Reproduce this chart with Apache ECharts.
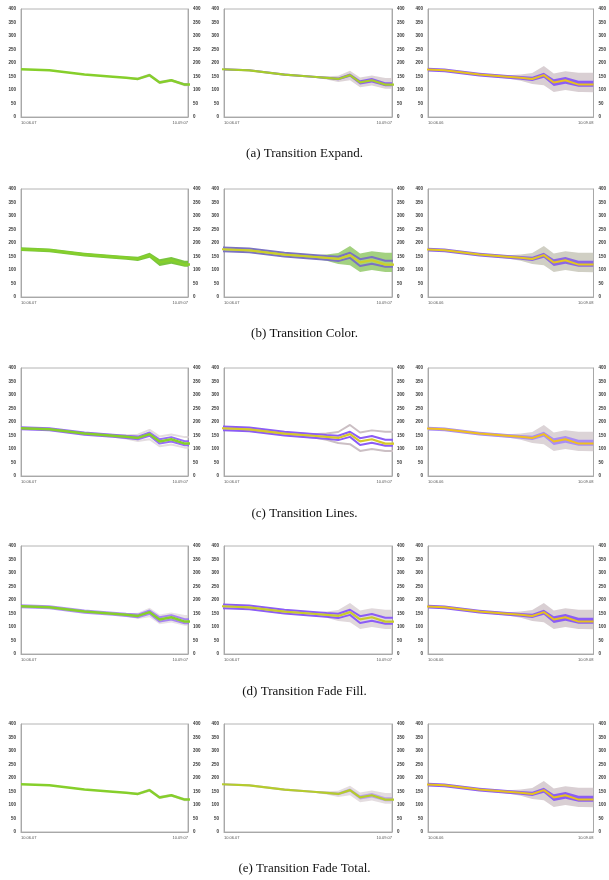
<!DOCTYPE html>
<html><head><meta charset="utf-8">
<script src="https://cdn.jsdelivr.net/npm/echarts@6/dist/echarts.min.js"></script>
<style>html,body{margin:0;padding:0;background:#fff}#c{width:609px;height:880px}</style>
</head><body><div id="c"></div>
<script>
// ---- data (day index from start, values) ----
const days        = [0, 17, 38, 55, 63, 70, 77, 83, 90, 98, 100, 107];
const meanValues  = [177,173,157,149,145,141,155,128,136,120,120,120];
// full uncertainty bands
const purpleUpper = [184,180,164,156,152,149,164,140,148,134,134,134];
const purpleLower = [170,166,150,142,138,133,145,115,123,112,112,112];
const grayUpper   = [181,177,161,155,157,163,189,161,169,164,164,164];
const grayLower   = [173,169,153,143,134,122,118, 93,100, 93, 93, 92];
// partially expanded bands
const purpleUpperMid = [181,177,161,153,149,146,161,136,144,129,129,129];
const purpleLowerMid = [173,169,153,145,141,136,149,120,128,114,114,114];
const grayUpperMid   = [179,175,159,152,151,153,171,146,154,144,144,144];
const grayLowerMid   = [175,171,155,146,139,130,136,110,117,105,105,105];
// barely expanded bands
const purpleUpperSmall = [178,174,158,150,146,143,158,131,139,124,124,124];
const purpleLowerSmall = [176,172,156,148,144,139,152,125,133,117,117,117];
const grayUpperSmall   = [178,174,158,150,147,146,161,134,141,126,126,126];
const grayLowerSmall   = [176,172,156,148,143,136,149,122,131,114,114,114];

const yTicks = [0,50,100,150,200,250,300,350,400];
const columnRanges = [[0,100],[2,102],[7,107]];
const dateLabels = [['10.06.07','10.09.07'],['10.06.07','10.09.07'],['10.06.06','10.09.08']];
const captions = ['(a) Transition Expand.','(b) Transition Color.','(c) Transition Lines.','(d) Transition Fade Fill.','(e) Transition Fade Total.'];

// ---- layout ----
const rowTops = [9,189,368,546,724];
const plotH = 108;
const colLefts = [21,224,428];
const colWidths = [167,168,167];
const captionY = [150,330,510,688,865];

const bands = {
  full: {pu:purpleUpper, pl:purpleLower, gu:grayUpper, gl:grayLower},
  mid:  {pu:purpleUpperMid, pl:purpleLowerMid, gu:grayUpperMid, gl:grayLowerMid},
  small:{pu:purpleUpperSmall, pl:purpleLowerSmall, gu:grayUpperSmall, gl:grayLowerSmall}
};
const GREEN = '#86cf2b';
const specs = [
  // row a
  [ {b:'small', gray:{mode:'fill',color:'#d9cfd3',op:0.9}, purple:{mode:'fill',color:'#8b5cf6',op:0.9}, line:GREEN, w:2.5},
    {b:'mid',   gray:{mode:'fill',color:'#d9cfd3',op:0.9}, purple:{mode:'fill',color:'#8b5cf6',op:1}, line:'#a6cc2c', w:2.2},
    {b:'full',  gray:{mode:'fill',color:'#d9cfd3',op:1}, purple:{mode:'fill',color:'#8b5cf6',op:1}, line:'#e6c21e', w:2} ],
  // row b
  [ {b:'full',  gray:null, purple:{mode:'fill',color:'#72c234',op:0.95}, line:GREEN, w:2.5},
    {b:'full',  gray:{mode:'fill',color:'#8cc660',op:0.8}, purple:{mode:'lines',color:'#7a72c2',op:1}, line:'#cccf2a', w:2.2},
    {b:'full',  gray:{mode:'fill',color:'#d0cfc4',op:1}, purple:{mode:'fill',color:'#8b66e6',op:1}, line:'#e3c81e', w:2} ],
  // row c
  [ {b:'mid',   gray:{mode:'lines',color:'#d9cfd3',op:0.7}, purple:{mode:'lines',color:'#8b5cf6',op:0.9}, line:GREEN, w:2.5},
    {b:'full',  gray:{mode:'lines',color:'#cbbfc4',op:1}, purple:{mode:'lines',color:'#8b5cf6',op:1}, line:'#d6c92a', w:2.2},
    {b:'full',  gray:{mode:'fill',color:'#dcd4d7',op:1}, purple:{mode:'fill',color:'#a98cf5',op:1}, line:'#f0c020', w:2} ],
  // row d
  [ {b:'mid',   gray:{mode:'fill',color:'#d9cfd3',op:0.6}, purple:{mode:'lines',color:'#8b5cf6',op:0.7}, line:GREEN, w:2.5},
    {b:'full',  gray:{mode:'fill',color:'#e0d8db',op:1}, purple:{mode:'lines',color:'#8b5cf6',op:1}, line:'#c8cb2c', w:2.2},
    {b:'full',  gray:{mode:'fill',color:'#d9cfd3',op:1}, purple:{mode:'fill',color:'#8b5cf6',op:1}, line:'#e6c21e', w:2} ],
  // row e
  [ {b:'small', gray:{mode:'fill',color:'#d9cfd3',op:0.8}, purple:null, line:GREEN, w:2.5},
    {b:'mid',   gray:{mode:'fill',color:'#d9cfd3',op:0.7}, purple:{mode:'fill',color:'#8b5cf6',op:0.45}, line:'#b5cc2c', w:2.2},
    {b:'full',  gray:{mode:'fill',color:'#d9cfd3',op:1}, purple:{mode:'fill',color:'#8b5cf6',op:1}, line:'#e6c21e', w:2} ]
];

const grids=[], xAxes=[], yAxes=[], series=[];
function pts(arr){ return days.map((d,i)=>[d,arr[i]]); }
function addBand(g, up, low, st, z){
  if(!st) return;
  if(st.mode==='fill'){
    series.push({type:'custom',xAxisIndex:g,yAxisIndex:2*g,silent:true,z:z,
      data:days.map((d,i)=>[d,low[i],up[i]]),
      renderItem:(params,api)=>{
        if(params.dataIndex!==0) return null;
        const top=days.map((d,i)=>api.coord([d,up[i]]));
        const bot=days.map((d,i)=>api.coord([d,low[i]])).reverse();
        const cs=params.coordSys;
        return {type:'polygon',shape:{points:top.concat(bot)},
          style:{fill:st.color,opacity:st.op},
          clipPath:{type:'rect',shape:{x:cs.x,y:cs.y,width:cs.width,height:cs.height}}};
      }});
  } else {
    [up,low].forEach(a=>series.push({type:'line',xAxisIndex:g,yAxisIndex:2*g,data:pts(a),symbol:'none',silent:true,z:z,lineStyle:{color:st.color,opacity:st.op,width:2}}));
  }
}

for(let r=0;r<5;r++){
  for(let c=0;c<3;c++){
    const g=r*3+c, sp=specs[r][c], B=bands[sp.b];
    const [mn,mx]=columnRanges[c];
    grids.push({left:colLefts[c],top:rowTops[r],width:colWidths[c],height:plotH,show:true,borderColor:'#b4b4b4',borderWidth:1,backgroundColor:'#fff'});
    xAxes.push({type:'value',gridIndex:g,min:mn,max:mx,interval:mx-mn,
      axisLine:{show:true,lineStyle:{color:'#a8a8a8',width:1}},axisTick:{show:false},splitLine:{show:false},
      axisLabel:{fontSize:4,color:'#555',margin:4,alignMinLabel:'left',alignMaxLabel:'right',
        formatter:(v)=> v===mn?dateLabels[c][0]:(v===mx?dateLabels[c][1]:'')}});
    const yCommon={type:'value',gridIndex:g,min:yTicks[0],max:yTicks[yTicks.length-1],interval:yTicks[1]-yTicks[0],
      axisTick:{show:false},splitLine:{show:false},
      axisLine:{show:true,lineStyle:{color:'#a8a8a8',width:1}},
      axisLabel:{fontSize:4.5,color:'#333',fontWeight:'bold',margin:5}};
    yAxes.push(Object.assign({},yCommon,{position:'left'}));
    yAxes.push(Object.assign({},yCommon,{position:'right'}));
    addBand(g,B.gu,B.gl,sp.gray,2);
    addBand(g,B.pu,B.pl,sp.purple,3);
    series.push({type:'line',xAxisIndex:g,yAxisIndex:2*g,data:pts(meanValues),symbol:'none',z:5,lineStyle:{color:sp.line,width:sp.w}});
  }
}

const titles = captions.map((t,i)=>({text:t,left:'center',top:captionY[i]-8,
  textStyle:{fontFamily:'Liberation Serif',fontSize:13,fontWeight:'normal',color:'#111'}}));

const chart = echarts.init(document.getElementById('c'),null,{renderer:'canvas'});
chart.setOption({animation:false,backgroundColor:'#fff',title:titles,grid:grids,xAxis:xAxes,yAxis:yAxes,series:series});
</script></body></html>
